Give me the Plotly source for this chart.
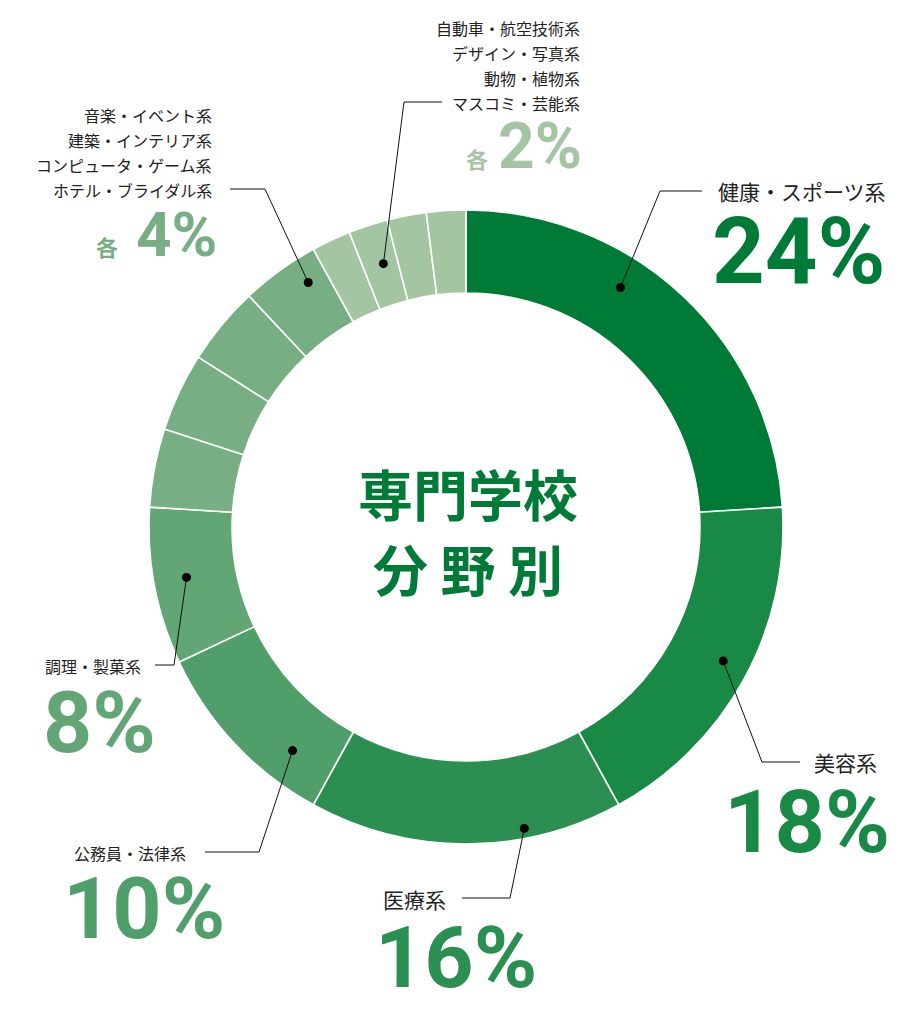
import math
import plotly.graph_objects as go

# slice data, clockwise from 12 o'clock
categories = [
    "健康・スポーツ系", "美容系", "医療系", "公務員・法律系", "調理・製菓系",
    "音楽・イベント系", "建築・インテリア系", "コンピュータ・ゲーム系", "ホテル・ブライダル系",
    "自動車・航空技術系", "デザイン・写真系", "動物・植物系", "マスコミ・芸能系",
]
shares = [24, 18, 16, 10, 8, 4, 4, 4, 4, 2, 2, 2, 2]
slice_colors = [
    "#007b37", "#188a46", "#2a8f50", "#509e6a", "#62a675",
    "#77ae83", "#77ae83", "#77ae83", "#77ae83",
    "#a4c5a2", "#a4c5a2", "#a4c5a2", "#a4c5a2",
]

# text blocks: (label lines, percent text, colour)
groups = [
    (["健康・スポーツ系"], "24%", "#007b37"),
    (["美容系"], "18%", "#188a46"),
    (["医療系"], "16%", "#2a8f50"),
    (["公務員・法律系"], "10%", "#509e6a"),
    (["調理・製菓系"], "8%", "#62a675"),
    (["音楽・イベント系", "建築・インテリア系", "コンピュータ・ゲーム系", "ホテル・ブライダル系"], "4%", "#77ae83"),
    (["自動車・航空技術系", "デザイン・写真系", "動物・植物系", "マスコミ・芸能系"], "2%", "#a4c5a2"),
]

W, H = 920, 1015
CX, CY, R = 466, 527, 317
JP = "Noto Sans CJK JP"
NUM = "Roboto"

# callout layout (pixel space): slice index, position in slice, radius of dot,
# elbow and end of the leader, label anchor, label size, number anchor, number size
callouts = [
    dict(s=0, f=0.38, r=285, elbow=(660, 191), end=(702, 191),
         lx=888, ly=191, lsize=21, anchor="right", nx=888, ny=251, nsize=92),
    dict(s=1, f=0.48, r=290, elbow=(762, 762), end=(800, 762),
         lx=879, ly=762, lsize=21, anchor="right", nx=892, ny=821, nsize=88),
    dict(s=2, f=0.31, r=307, elbow=(510, 898), end=(462, 898),
         lx=381, ly=899, lsize=21, anchor="left", nx=373, ny=957, nsize=86),
    dict(s=3, f=0.25, r=283, elbow=(259, 852), end=(205, 852),
         lx=188, ly=853, lsize=16, anchor="right", nx=227, ny=908, nsize=86),
    dict(s=4, f=0.52, r=284, elbow=(174, 665), end=(155, 665),
         lx=143, ly=666, lsize=16, anchor="right", nx=158, ny=722, nsize=86),
    dict(s=8, f=0.72, r=291, elbow=(265, 189), end=(230, 189),
         lx=214, ly=190, lsize=16, anchor="right", nx=219, ny=234, nsize=62, kx=120),
    dict(s=10, f=0.58, r=276, elbow=(404, 102), end=(442, 102),
         lx=582, ly=103, lsize=16, anchor="right", nx=584, ny=146, nsize=64, kx=490),
]

fig = go.Figure()

fig.add_trace(go.Pie(
    labels=categories,
    values=shares,
    sort=False,
    direction="clockwise",
    rotation=0,
    hole=0.738,
    marker=dict(colors=slice_colors, line=dict(color="white", width=1.6)),
    textinfo="none",
    hovertemplate="%{label}: %{value}%<extra></extra>",
    showlegend=False,
    domain=dict(x=[(CX - R) / W, (CX + R) / W], y=[1 - (CY + R) / H, 1 - (CY - R) / H]),
))

# leader lines and dots (shapes, so they sit above the ring)
cum = [0]
for v in shares:
    cum.append(cum[-1] + v)
total = cum[-1]

for c in callouts:
    ang = math.radians((cum[c["s"]] + c["f"] * shares[c["s"]]) / total * 360)
    px = CX + c["r"] * math.sin(ang)
    py = CY - c["r"] * math.cos(ang)
    (ex, ey), (tx, ty) = c["elbow"], c["end"]
    fig.add_shape(type="path", xref="x", yref="y", layer="above",
                  path=f"M {px:.1f},{py:.1f} L {ex},{ey} L {tx},{ty}",
                  line=dict(color="#111", width=1))
    fig.add_shape(type="circle", xref="x", yref="y", layer="above",
                  x0=px - 4.5, x1=px + 4.5, y0=py - 4.5, y1=py + 4.5,
                  fillcolor="#000", line=dict(width=0))

# labels and percentages
for (lines, pct, col), c in zip(groups, callouts):
    n = len(lines)
    for i, line in enumerate(lines):
        fig.add_annotation(x=c["lx"], y=c["ly"] - (n - 1 - i) * 25, text=line,
                           xanchor=c["anchor"], yanchor="middle", showarrow=False,
                           font=dict(family=JP, size=c["lsize"], color="#222"))
    fig.add_annotation(x=c["nx"], y=c["ny"], text=pct, xanchor=c["anchor"], yanchor="middle",
                       showarrow=False, font=dict(family=NUM, size=c["nsize"], color=col, weight=700))
    if n > 1:
        # "各" in front of the shared percentage
        fig.add_annotation(x=c["kx"], y=c["ny"] + 12, text="各",
                           xanchor="right", yanchor="middle", showarrow=False,
                           font=dict(family=JP, size=22, color=col, weight=700))

# centre title
fig.add_annotation(x=CX + 2, y=492, text="専門学校", showarrow=False, xanchor="center", yanchor="middle",
                   font=dict(family=JP, size=55, color="#007b37", weight=700))
fig.add_annotation(x=CX + 2, y=567, text="分 野 別", showarrow=False, xanchor="center", yanchor="middle",
                   font=dict(family=JP, size=55, color="#007b37", weight=700))

fig.update_layout(
    width=W, height=H,
    margin=dict(l=0, r=0, t=0, b=0),
    paper_bgcolor="white", plot_bgcolor="rgba(0,0,0,0)",
    xaxis=dict(range=[0, W], visible=False, fixedrange=True, domain=[0, 1]),
    yaxis=dict(range=[H, 0], visible=False, fixedrange=True, domain=[0, 1]),
)

# drop the default page margin so the figure sits at the window corner
fig.write_html("out.html", config={"displayModeBar": False},
               post_script="document.body.style.margin='0';")
